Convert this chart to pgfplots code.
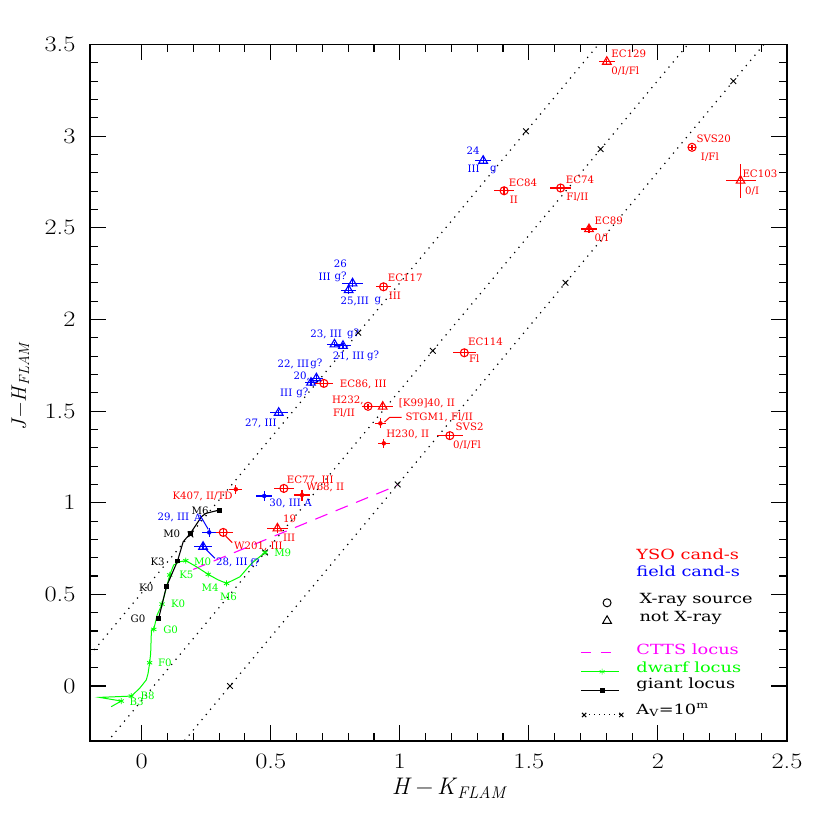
\documentclass[border=0pt]{standalone}
\usepackage{fontspec}
\usepackage{pgfplots}
\pgfplotsset{compat=1.18}

\newfontfamily\dvs{DejaVu Serif}
\newfontfamily\dvw[FakeStretch=1.27]{DejaVu Serif}
\newfontfamily\tickf[FakeStretch=1.2]{Latin Modern Roman}
\newcommand\lab{\dvs\fontsize{10.2}{10.2}\selectfont}
\newcommand\leg{\dvw\fontsize{14}{14}\selectfont}
\definecolor{mag}{RGB}{255,0,255}
\definecolor{grn}{RGB}{0,255,0}

% YSO candidates (red) and field candidates (blue): x y ex ey
\pgfplotstableread{
x y ex ey
2.132 2.939 0.015 0.015
1.404 2.702 0.039 0.020
1.623 2.717 0.040 0.020
0.937 2.178 0.030 0.020
1.250 1.818 0.044 0.020
0.706 1.651 0.035 0.020
0.877 1.526 0.025 0.015
1.194 1.366 0.049 0.020
0.551 1.078 0.039 0.020
0.316 0.838 0.039 0.020
}\redcirc
\pgfplotstableread{
x y ex ey
1.802 3.406 0.030 0.015
2.320 2.757 0.058 0.093
1.733 2.493 0.030 0.020
0.934 1.524 0.040 0.020
0.526 0.860 0.042 0.025
}\redtri
\pgfplotstableread{
x y ex ey
0.925 1.433 0.020 0.027
0.938 1.324 0.024 0.025
0.365 1.073 0.025 0.025
0.621 1.042 0.030 0.030
}\redplus
\pgfplotstableread{
x y ex ey
1.323 2.866 0.030 0.020
0.817 2.197 0.042 0.020
0.802 2.160 0.030 0.020
0.747 1.864 0.030 0.015
0.780 1.856 0.030 0.015
0.677 1.679 0.025 0.020
0.656 1.655 0.025 0.020
0.531 1.491 0.035 0.015
0.238 0.760 0.036 0.020
}\bluetri
\pgfplotstableread{
x y ex ey
0.475 1.037 0.031 0.027
0.262 0.838 0.028 0.025
}\blueplus

\begin{document}
\begin{tikzpicture}
\begin{axis}[
  scale only axis, width=697pt, height=696.5pt,
  xmin=-0.2, xmax=2.5, ymin=-0.3, ymax=3.5,
  xtick={0,0.5,1,1.5,2,2.5}, ytick={0,0.5,1,1.5,2,2.5,3,3.5},
  minor tick num=4, tick align=inside,
  major tick length=15.7pt, minor tick length=8pt,
  axis line style={line width=1.3pt},
  every tick/.style={black, line width=1.1pt},
  /pgf/number format/assume math mode=true,
  tick label style={font=\tickf\fontsize{22}{22}\selectfont},
  xticklabel style={yshift=-9pt},
  yticklabel style={xshift=-11pt},
  xlabel={\textit{H}\,−\,\textit{K}\textsubscript{\textit{FLAM}}},
  ylabel={\textit{J}−\textit{H}\textsubscript{\textit{FLAM}}},
  xlabel style={font=\fontsize{24}{24}\selectfont, at={(axis description cs:0.516,-0.068)}, anchor=center},
  ylabel style={font=\fontsize{21}{21}\selectfont, at={(axis description cs:-0.1,0.51)}, anchor=center, rotate=0},
  clip mode=individual,
  ebar/.style={only marks, error bars/.cd, x dir=both, x explicit, y dir=both, y explicit,
    error mark=none, error bar style={line width=1.2pt}},
]
\coordinate (bl) at (rel axis cs:0,0);
\coordinate (tr) at (rel axis cs:1,1);

% reddening lines
\addplot[black, line width=1.2pt, dash pattern=on 1.2pt off 5.5pt] coordinates {(-0.3,0.0) (2.0,3.89)};
\addplot[black, line width=1.2pt, dash pattern=on 1.2pt off 5.5pt] coordinates {(-0.3,-0.587) (2.4,3.981)};
\addplot[black, line width=1.2pt, dash pattern=on 1.2pt off 5.5pt] coordinates {(0.0,-0.579) (2.6,3.821)};
\addplot[black, only marks, mark=x, mark size=4pt, line width=0.9pt] coordinates {
  (0.189,0.827) (0.839,1.927) (1.489,3.027)
  (0.478,0.729) (1.128,1.829) (1.778,2.929)
  (0.342,0.0) (0.992,1.1) (1.642,2.2) (2.292,3.3)};

% CTTS locus
\addplot[mag, line width=1.1pt, dash pattern=on 13pt off 9pt] coordinates {(0.2,0.636) (0.99,1.094)};

% dwarf locus
\addplot[grn, line width=1pt] coordinates {
  (-0.118,-0.113) (-0.079,-0.082) (-0.163,-0.062) (-0.04,-0.055) (-0.008,-0.013)
  (0.018,0.033) (0.025,0.069) (0.031,0.127) (0.035,0.178) (0.038,0.306)
  (0.047,0.309) (0.06,0.387) (0.079,0.447) (0.109,0.606) (0.124,0.66)
  (0.148,0.678) (0.171,0.684) (0.212,0.651) (0.258,0.609) (0.295,0.58)
  (0.329,0.560) (0.381,0.596) (0.426,0.669) (0.478,0.729)};
\addplot[grn, only marks, mark=asterisk, mark size=3pt, line width=0.8pt] coordinates {
  (-0.079,-0.082) (-0.04,-0.055) (0.031,0.127) (0.047,0.309) (0.079,0.447)
  (0.109,0.606) (0.171,0.684) (0.258,0.609) (0.329,0.560) (0.478,0.729)};

% giant locus
\addplot[black, line width=1.1pt, mark=square*, mark size=1.8pt] coordinates {
  (0.066,0.369) (0.096,0.542) (0.139,0.682)};
\addplot[black, line width=1.1pt] coordinates {
  (0.139,0.682) (0.161,0.787) (0.189,0.833) (0.232,0.924) (0.249,0.942) (0.301,0.96)};
\addplot[black, only marks, mark=square*, mark size=1.8pt] coordinates {(0.189,0.833) (0.301,0.96)};

% candidates
\addplot[red, mark=o, mark size=4pt, mark options={line width=1.1pt}, ebar] table[x=x,y=y,x error=ex,y error=ey] {\redcirc};
\addplot[red, mark=triangle, mark size=5pt, mark options={line width=1.1pt}, ebar] table[x=x,y=y,x error=ex,y error=ey] {\redtri};
\addplot[red, mark=none, ebar] table[x=x,y=y,x error=ex,y error=ey] {\redplus};
\addplot[blue, mark=triangle, mark size=5pt, mark options={line width=1.1pt}, ebar] table[x=x,y=y,x error=ex,y error=ey] {\bluetri};
\addplot[blue, mark=none, ebar] table[x=x,y=y,x error=ex,y error=ey] {\blueplus};

% leader lines
\addplot[red, line width=1pt] coordinates {(0.941,1.44) (0.961,1.466) (1.007,1.466)};
\addplot[red, line width=1pt] coordinates {(0.326,0.818) (0.351,0.782)};
\addplot[blue, line width=1pt] coordinates {(0.225,0.935) (0.258,0.855)};
\addplot[blue, line width=1pt] coordinates {(0.245,0.751) (0.284,0.697)};

% legend symbols
\addplot[black, only marks, mark=o, mark size=4pt, mark options={line width=1pt}] coordinates {(1.803,0.454)};
\addplot[black, only marks, mark=triangle, mark size=5pt, mark options={line width=1pt}] coordinates {(1.803,0.356)};
\addplot[mag, line width=1.1pt, dash pattern=on 10pt off 10pt] coordinates {(1.702,0.182) (1.823,0.182)};
\addplot[grn, line width=1pt] coordinates {(1.702,0.078) (1.85,0.078)};
\addplot[grn, only marks, mark=asterisk, mark size=3pt] coordinates {(1.784,0.078)};
\addplot[black, line width=1pt] coordinates {(1.702,-0.022) (1.85,-0.022)};
\addplot[black, only marks, mark=square*, mark size=1.8pt] coordinates {(1.784,-0.022)};
\addplot[black, line width=1pt, dash pattern=on 1pt off 4pt, mark=x, mark size=3pt, mark options={solid}] coordinates {(1.714,-0.158) (1.858,-0.158)};

% labels
\begin{scope}[every node/.style={anchor=west, inner sep=0pt, font=\lab, text=red}]
\node at (1.819,3.452) {EC129};
\node at (1.819,3.357) {0/I/Fl};
\node at (2.149,2.988) {SVS20};
\node at (2.166,2.888) {I/Fl};
\node at (2.327,2.797) {EC103};
\node at (2.337,2.697) {0/I};
\node at (1.422,2.748) {EC84};
\node at (1.426,2.651) {II};
\node at (1.643,2.761) {EC74};
\node at (1.645,2.669) {Fl/II};
\node at (1.754,2.538) {EC89};
\node at (1.754,2.442) {0/I};
\node at (0.953,2.228) {EC117};
\node at (0.957,2.128) {III};
\node at (1.264,1.878) {EC114};
\node at (1.268,1.788) {Fl};
\node at (0.767,1.648) {EC86, III};
\node at (0.737,1.560) {H232,};
\node at (0.741,1.488) {Fl/II};
\node at (0.996,1.542) {[K99]40, II};
\node at (1.022,1.466) {STGM1, Fl/II};
\node at (0.947,1.375) {H230, II};
\node at (1.216,1.415) {SVS2};
\node at (1.206,1.315) {0/I/Fl};
\node at (0.119,1.033) {K407, II/TD};
\node at (0.562,1.124) {EC77, III};
\node at (0.637,1.084) {W68, II};
\node at (0.547,0.911) {19};
\node at (0.547,0.809) {III};
\node at (0.358,0.764) {W201, III};
\end{scope}
\begin{scope}[every node/.style={anchor=west, inner sep=0pt, font=\lab, text=blue}]
\node at (1.258,2.920) {24};
\node at (1.262,2.824) {III};
\node at (1.349,2.815) {g};
\node at (0.744,2.302) {26};
\node at (0.685,2.230) {III};
\node at (0.747,2.230) {g?};
\node at (0.770,2.100) {25,III};
\node at (0.902,2.100) {g};
\node at (0.653,1.919) {23, III};
\node at (0.795,1.919) {g?};
\node at (0.740,1.800) {21, III};
\node at (0.873,1.800) {g?};
\node at (0.526,1.755) {22, III};
\node at (0.653,1.755) {g?};
\node at (0.588,1.687) {20,};
\node at (0.536,1.602) {III};
\node at (0.599,1.602) {g?};
\node at (0.400,1.433) {27, III};
\node at (0.494,0.997) {30, III};
\node at (0.630,0.997) {A};
\node at (0.061,0.920) {29, III};
\node at (0.203,0.920) {A};
\node at (0.288,0.673) {28, III};
\node at (0.420,0.673) {f?};
\end{scope}
\begin{scope}[every node/.style={anchor=west, inner sep=0pt, font=\lab, text=grn}]
\node at (0.513,0.727) {M9};
\node at (0.203,0.678) {M0};
\node at (0.145,0.606) {K5};
\node at (0.232,0.536) {M4};
\node at (0.303,0.487) {M6};
\node at (0.113,0.447) {K0};
\node at (0.083,0.306) {G0};
\node at (0.063,0.127) {F0};
\node at (-0.005,-0.055) {B8};
\node at (-0.047,-0.086) {B3};
\end{scope}
\begin{scope}[every node/.style={anchor=west, inner sep=0pt, font=\lab, text=black}]
\node at (0.193,0.956) {M6};
\node at (0.083,0.828) {M0};
\node at (0.034,0.677) {K3};
\node at (-0.010,0.538) {K0};
\node at (-0.043,0.366) {G0};
\end{scope}
\begin{scope}[every node/.style={anchor=west, inner sep=0pt, font=\leg}]
\node[text=red] at (1.916,0.720) {YSO cand-s};
\node[text=blue] at (1.916,0.624) {field cand-s};
\node at (1.928,0.470) {X-ray source};
\node at (1.928,0.371) {not X-ray};
\node[text=mag] at (1.916,0.202) {CTTS locus};
\node[text=grn] at (1.916,0.104) {dwarf locus};
\node at (1.916,0.005) {giant locus};
\node at (1.916,-0.131) {A\textsubscript{V}=10\textsuperscript{m}};
\end{scope}
\end{axis}
\pgfresetboundingbox
\useasboundingbox ([xshift=-90pt,yshift=-89pt]bl) rectangle ([xshift=43pt,yshift=44.5pt]tr);
\end{tikzpicture}
\end{document}
